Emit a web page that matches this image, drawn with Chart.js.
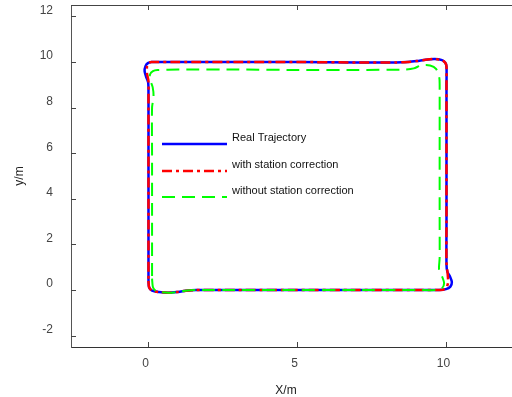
<!DOCTYPE html>
<html>
<head>
<meta charset="utf-8">
<script src="https://cdn.jsdelivr.net/npm/chart.js@4/dist/chart.umd.min.js"></script>
<style>
  html, body { margin: 0; padding: 0; background: #fff; overflow: hidden; }
  #wrap { position: relative; width: 521px; height: 397px; }
</style>
</head>
<body>
<div id="wrap"><canvas id="traj"></canvas></div>
<script>
// ─── Data ───
const xTicks = [0, 5, 10];
const yTicks = [-2, 0, 2, 4, 6, 8, 10, 12];

const seriesNames = ['Real Trajectory', 'with station correction', 'without station correction'];

// real trajectory (blue, solid)
const realX = [0.00, 0.02, 0.12, 0.35, 0.65, 0.95, 1.25, 1.6, 3.0, 5.0, 7.0, 9.0, 9.75, 9.98, 10.13, 10.18, 10.12, 10.03, 10.0, 10.0, 10.0, 10.0, 10.0, 9.96, 9.85, 9.6, 9.3, 9.0, 8.7, 8.3, 7.0, 5.0, 3.0, 1.0, 0.1, -0.02, -0.1, -0.13, -0.08, -0.01, 0.0, 0.0, 0.0, 0.0];
const realY = [0.40, 0.12, -0.03, -0.09, -0.12, -0.09, -0.03, 0.0, 0.0, 0.0, 0.0, 0.0, 0.0, 0.04, 0.15, 0.35, 0.58, 0.8, 1.1, 3.0, 6.0, 9.0, 9.8, 9.97, 10.08, 10.13, 10.1, 10.04, 10.0, 9.98, 9.98, 10.0, 10.0, 10.0, 10.0, 9.95, 9.82, 9.6, 9.35, 9.1, 8.5, 6.0, 3.0, 0.40];

// with station correction (red, dash-dot)
const corrX = [0.00, 0.02, 0.12, 0.35, 0.65, 0.95, 1.25, 1.6, 3.0, 5.0, 7.0, 9.0, 9.8, 9.97, 10.05, 10.04, 10.0, 10.0, 10.0, 10.0, 10.0, 9.96, 9.85, 9.6, 9.3, 9.0, 8.7, 8.3, 7.0, 5.0, 3.0, 1.0, 0.1, 0.0, -0.05, -0.05, 0.0, 0.0, 0.0, 0.0, 0.0];
const corrY = [0.40, 0.12, -0.03, -0.09, -0.12, -0.09, -0.03, 0.0, 0.0, 0.0, 0.0, 0.0, 0.0, 0.06, 0.3, 0.7, 1.2, 3.0, 6.0, 9.0, 9.8, 9.97, 10.08, 10.13, 10.1, 10.04, 10.0, 9.98, 9.98, 10.0, 10.0, 10.0, 10.0, 9.95, 9.8, 9.5, 9.15, 8.5, 6.0, 3.0, 0.40];

// without station correction (green, dashed)
const rawX = [0.12, 0.15, 0.25, 0.45, 0.7, 1.0, 1.3, 1.7, 3.0, 5.0, 7.0, 9.0, 9.7, 9.85, 9.92, 9.85, 9.75, 9.77, 9.77, 9.77, 9.77, 9.76, 9.65, 9.45, 9.15, 8.9, 8.6, 7.0, 5.0, 3.0, 1.0, 0.3, 0.15, 0.05, 0.06, 0.14, 0.17, 0.12, 0.12, 0.12, 0.12];
const rawY = [0.5, 0.12, -0.04, -0.1, -0.12, -0.08, -0.02, 0.0, 0.0, 0.0, 0.0, 0.0, 0.0, 0.08, 0.3, 0.6, 0.9, 1.4, 3.0, 6.0, 9.0, 9.3, 9.7, 9.85, 9.85, 9.72, 9.67, 9.65, 9.65, 9.67, 9.67, 9.65, 9.6, 9.45, 9.2, 8.9, 8.5, 8.0, 6.0, 3.0, 0.5];

const toPts = (xs, ys) => xs.map((x, i) => ({ x, y: ys[i] }));

const labelFont = '"Liberation Sans", Arial, sans-serif';

// ─── Legend drawn inside the plot, plus the x title ───
const insideLegend = {
    id: 'insideLegend',
    afterDraw(chart) {
        const ctx = chart.ctx;
        const rows = [144, 171, 197];
        ctx.save();
        chart.data.datasets.forEach((ds, i) => {
            ctx.strokeStyle = ds.borderColor;
            ctx.lineWidth = ds.borderWidth;
            ctx.setLineDash(ds.borderDash || []);
            ctx.beginPath();
            ctx.moveTo(162, rows[i]);
            ctx.lineTo(227, rows[i]);
            ctx.stroke();
            ctx.setLineDash([]);
            ctx.fillStyle = '#111';
            ctx.font = '11px ' + labelFont;
            ctx.textBaseline = 'middle';
            ctx.textAlign = 'left';
            ctx.fillText(ds.label, 232, rows[i] - 6);
        });
        // x axis title sits a bit left of the plot centre in the reference
        ctx.fillStyle = '#222';
        ctx.font = '12px ' + labelFont;
        ctx.textAlign = 'center';
        ctx.fillText('X/m', 286, 391);
        ctx.restore();
    }
};

// ─── Inward tick marks + top spine ───
const innerTicks = {
    id: 'innerTicks',
    afterDraw(chart) {
        const { ctx, chartArea: a, scales: { x, y } } = chart;
        ctx.save();
        ctx.strokeStyle = '#444';
        ctx.lineWidth = 1;
        ctx.beginPath();
        ctx.moveTo(a.left, a.top + 0.5);
        ctx.lineTo(a.right, a.top + 0.5);
        xTicks.forEach(v => {
            const px = Math.round(x.getPixelForValue(v)) + 0.5;
            ctx.moveTo(px, a.bottom);
            ctx.lineTo(px, a.bottom - 5);
            ctx.moveTo(px, a.top);
            ctx.lineTo(px, a.top + 5);
        });
        yTicks.forEach(v => {
            const py = Math.round(y.getPixelForValue(v)) + 0.5;
            ctx.moveTo(a.left, py);
            ctx.lineTo(a.left + 5, py);
        });
        ctx.stroke();
        ctx.restore();
    }
};

const tickFont = { family: labelFont, size: 12 };

new Chart(document.getElementById('traj'), {
    type: 'scatter',
    data: {
        datasets: [
            {
                label: seriesNames[0], data: toPts(realX, realY),
                borderColor: '#0000FF', borderWidth: 2.5, order: 3
            },
            {
                label: seriesNames[1], data: toPts(corrX, corrY),
                borderColor: '#FF0000', borderWidth: 2.5, borderDash: [10, 4, 3, 4], order: 2
            },
            {
                label: seriesNames[2], data: toPts(rawX, rawY),
                borderColor: '#00FF00', borderWidth: 2, borderDash: [13, 7], order: 1
            }
        ].map(d => Object.assign(d, { showLine: true, pointRadius: 0, tension: 0.25, fill: false }))
    },
    options: {
        responsive: true,
        maintainAspectRatio: false,
        animation: false,
        layout: { padding: { top: 5, right: 0, left: 0, bottom: 0 } },
        plugins: { legend: { display: false }, tooltip: { enabled: false } },
        scales: {
            x: {
                type: 'linear', min: -2.6, max: 12.5,
                afterBuildTicks: s => { s.ticks = xTicks.map(v => ({ value: v })); },
                afterFit: s => { s.height = 50; s.paddingLeft = 0; s.paddingRight = 0; },
                grid: { display: false, drawTicks: false },
                border: { color: '#333', width: 1 },
                ticks: { padding: 9, labelOffset: -3, color: '#444', font: tickFont }
            },
            y: {
                type: 'linear', min: -2.5, max: 12.5,
                afterBuildTicks: s => { s.ticks = yTicks.map(v => ({ value: v })); },
                afterFit: s => { s.width = 71; s.paddingTop = 0; s.paddingBottom = 0; },
                grid: { display: false, drawTicks: false },
                border: { color: '#555', width: 1 },
                ticks: { padding: 18, labelOffset: -6, color: '#444', font: tickFont },
                title: { display: true, text: 'y/m', color: '#222', font: tickFont, padding: { top: 12, bottom: 0 } }
            }
        }
    },
    plugins: [innerTicks, insideLegend]
});
</script>
</body>
</html>
